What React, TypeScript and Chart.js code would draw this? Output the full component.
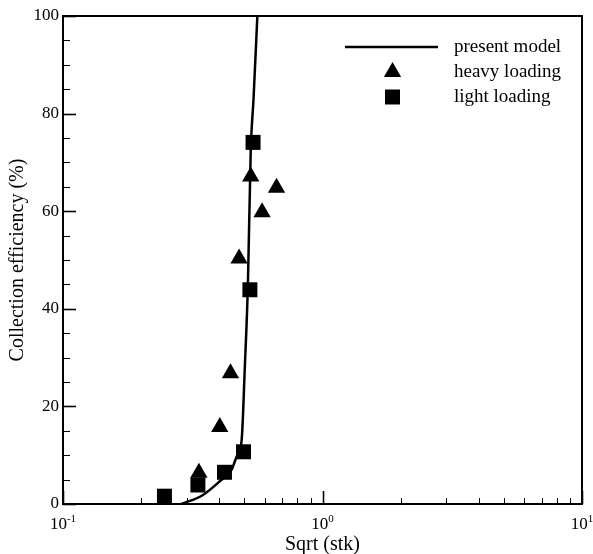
import React, { useEffect, useRef } from 'react';
import { Chart, registerables } from 'chart.js';

Chart.register(...registerables);

// Model curve (present model)
const modelX = [0.286, 0.345, 0.401, 0.446, 0.469, 0.488, 0.502, 0.516, 0.529, 0.542, 0.561];
const modelY = [0, 1.8, 4.6, 7.0, 10.0, 13.1, 28.1, 45.3, 72.5, 82.8, 100];

// Measured data
const heavyX = [0.334, 0.402, 0.442, 0.477, 0.529, 0.585, 0.665];
const heavyY = [6.4, 15.8, 26.8, 50.3, 67.1, 59.8, 64.8];
const lightX = [0.246, 0.331, 0.419, 0.496, 0.525, 0.54];
const lightY = [1.6, 3.9, 6.5, 10.7, 43.9, 74.1];

const seriesLabels = ['present model', 'heavy loading', 'light loading'];
const xDecades = [-1, 0, 1];
const yLabelStep = 20;
const yMinorStep = 5;
const xTitle = 'Sqrt (stk)';
const yTitle = 'Collection efficiency (%)';

const FONT = '"Liberation Serif", "Times New Roman", serif';
const TRI_R = 10;
const RECT_R = 10.6;

const toPoints = (xs: number[], ys: number[]) => xs.map((x, i) => ({ x, y: ys[i] }));

const framePlugin = {
  id: 'frameTicksLegend',
  afterDraw(chart: any) {
    const ctx = chart.ctx as CanvasRenderingContext2D;
    const { left, right, top, bottom } = chart.chartArea;
    const xs = chart.scales.x;
    const ys = chart.scales.y;
    ctx.save();
    ctx.strokeStyle = '#000';
    ctx.fillStyle = '#000';

    // inward tick marks on the left axis
    for (const t of ys.ticks) {
      const py = Math.round(ys.getPixelForValue(t.value)) + 0.5;
      const major = t.value % yLabelStep === 0;
      ctx.lineWidth = major ? 1.6 : 1;
      ctx.beginPath();
      ctx.moveTo(left, py);
      ctx.lineTo(left + (major ? 13 : 7), py);
      ctx.stroke();
    }
    // inward tick marks on the bottom axis
    for (const t of xs.ticks) {
      const px = Math.round(xs.getPixelForValue(t.value)) + 0.5;
      ctx.lineWidth = t.major ? 1.6 : 1;
      ctx.beginPath();
      ctx.moveTo(px, bottom);
      ctx.lineTo(px, bottom - (t.major ? 13 : 6));
      ctx.stroke();
    }

    // frame
    ctx.lineWidth = 2;
    ctx.strokeRect(left, top, right - left, bottom - top);

    // x tick labels with exponents
    ctx.textBaseline = 'alphabetic';
    ctx.textAlign = 'left';
    for (const d of xDecades) {
      const px = xs.getPixelForValue(Math.pow(10, d));
      const base = '10';
      const exp = String(d);
      ctx.font = `17px ${FONT}`;
      const wb = ctx.measureText(base).width;
      ctx.font = `11px ${FONT}`;
      const we = ctx.measureText(exp).width;
      const x0 = px - (wb + we) / 2;
      const baseY = bottom + 25;
      ctx.font = `17px ${FONT}`;
      ctx.fillText(base, x0, baseY);
      ctx.font = `11px ${FONT}`;
      ctx.fillText(exp, x0 + wb, baseY - 7);
    }

    // axis titles
    ctx.font = `20px ${FONT}`;
    ctx.textAlign = 'center';
    ctx.textBaseline = 'middle';
    ctx.fillText(xTitle, (left + right) / 2, bottom + 41);
    ctx.save();
    ctx.translate(18, (top + bottom) / 2);
    ctx.rotate(-Math.PI / 2);
    ctx.fillText(yTitle, 0, 0);
    ctx.restore();

    // legend
    const lx = right - 128;
    const ly = top + 31;
    const gap = 25;
    const lineL = right - 237;
    const lineR = right - 144;
    ctx.lineWidth = 2.5;
    ctx.beginPath();
    ctx.moveTo(lineL, ly);
    ctx.lineTo(lineR, ly);
    ctx.stroke();
    const mx = (lineL + lineR) / 2 + 1;
    // triangle marker
    const ty = ly + gap;
    ctx.beginPath();
    for (let k = 0; k < 3; k++) {
      const a = (k * 2 * Math.PI) / 3;
      const vx = mx + Math.sin(a) * TRI_R;
      const vy = ty - Math.cos(a) * TRI_R;
      if (k === 0) ctx.moveTo(vx, vy);
      else ctx.lineTo(vx, vy);
    }
    ctx.closePath();
    ctx.fill();
    // square marker
    const sy = ly + 2 * gap;
    const s = Math.SQRT1_2 * RECT_R;
    ctx.fillRect(mx - s, sy - s, 2 * s, 2 * s);

    ctx.font = `19px ${FONT}`;
    ctx.textAlign = 'left';
    ctx.textBaseline = 'middle';
    seriesLabels.forEach((lab, i) => {
      ctx.fillText(lab, lx, ly + i * gap);
    });
    ctx.restore();
  },
};

export default function App() {
  const ref = useRef<HTMLCanvasElement | null>(null);

  useEffect(() => {
    if (!ref.current) return;
    const chart = new Chart(ref.current, {
      type: 'scatter',
      data: {
        datasets: [
          {
            type: 'line',
            label: seriesLabels[0],
            data: toPoints(modelX, modelY),
            borderColor: '#000',
            borderWidth: 2.5,
            pointRadius: 0,
            fill: false,
            cubicInterpolationMode: 'monotone',
          } as any,
          {
            label: seriesLabels[1],
            data: toPoints(heavyX, heavyY),
            pointStyle: 'triangle',
            pointRadius: TRI_R,
            backgroundColor: '#000',
            borderColor: '#000',
            borderWidth: 0,
            clip: false,
          } as any,
          {
            label: seriesLabels[2],
            data: toPoints(lightX, lightY),
            pointStyle: 'rect',
            pointRadius: RECT_R,
            backgroundColor: '#000',
            borderColor: '#000',
            borderWidth: 0,
            clip: false,
          } as any,
        ],
      },
      options: {
        animation: false,
        responsive: false,
        maintainAspectRatio: false,
        layout: { padding: { top: 16, right: 11, left: 0, bottom: 0 } },
        plugins: { legend: { display: false }, tooltip: { enabled: false } },
        scales: {
          x: {
            type: 'logarithmic',
            min: 0.1,
            max: 10,
            grid: { display: false, drawTicks: false },
            border: { display: false },
            ticks: { display: false },
            afterBuildTicks: (s: any) => {
              const list: any[] = [];
              for (let d = xDecades[0]; d < xDecades[xDecades.length - 1]; d++) {
                for (let k = 1; k <= 9; k++) {
                  list.push({ value: k * Math.pow(10, d), major: k === 1 });
                }
              }
              list.push({ value: Math.pow(10, xDecades[xDecades.length - 1]), major: true });
              s.ticks = list;
            },
            afterFit: (s: any) => {
              s.height = 50;
            },
          } as any,
          y: {
            type: 'linear',
            min: 0,
            max: 100,
            grid: { display: false, drawTicks: false },
            border: { display: false },
            ticks: {
              autoSkip: false,
              color: '#000',
              padding: 4,
              font: { family: FONT, size: 17 },
              callback: (v: any) => (Number(v) % yLabelStep === 0 ? String(v) : ''),
            },
            afterBuildTicks: (s: any) => {
              const list: any[] = [];
              for (let v = 0; v <= 100; v += yMinorStep) list.push({ value: v });
              s.ticks = list;
            },
            afterFit: (s: any) => {
              s.width = 63;
            },
          } as any,
        },
      },
      plugins: [framePlugin],
    });
    return () => chart.destroy();
  }, []);

  return (
    <div style={{ position: 'absolute', left: 0, top: 0, width: 593, height: 554, background: '#fff' }}>
      <canvas ref={ref} width={593} height={554} />
    </div>
  );
}
